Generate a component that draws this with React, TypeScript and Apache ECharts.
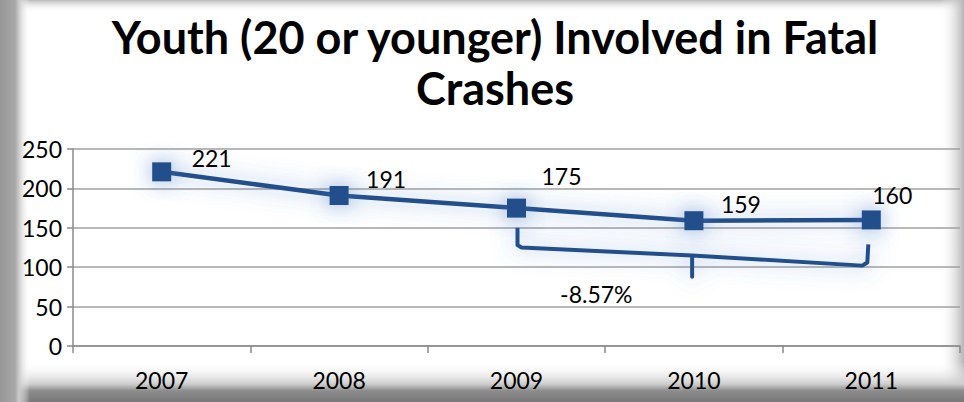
import React, { useEffect, useRef } from "react";
import * as echarts from "echarts";

const TITLE = "Youth (20 or younger) Involved in Fatal\nCrashes";
const YEARS = ["2007", "2008", "2009", "2010", "2011"];
const YOUTH_CRASHES = [221, 191, 175, 159, 160];
const Y_TICKS = [0, 50, 100, 150, 200, 250];
const COMPARE_FROM = 2; // 2009
const COMPARE_TO = 4; // 2011

const LINE_COLOR = "#21508C";
const GLOW = "rgba(70,120,200,0.65)";
const FONT = "Lato, 'Noto Sans', sans-serif";

// label offsets (layout only)
const LABEL_OFFSETS: [number, number][] = [
  [50, -14],
  [47, -16],
  [45, -32],
  [47, -17],
  [21, -25],
];

export default function App() {
  const ref = useRef<HTMLDivElement>(null);
  useEffect(() => {
    if (!ref.current) return;
    const chart = echarts.init(ref.current, undefined, { renderer: "svg" });
    const pct =
      ((YOUTH_CRASHES[COMPARE_TO] - YOUTH_CRASHES[COMPARE_FROM]) /
        YOUTH_CRASHES[COMPARE_FROM]) *
      100;
    const pctText = pct.toFixed(2) + "%";

    chart.setOption({
      animation: false,
      backgroundColor: "#ffffff",
      title: {
        text: TITLE,
        left: 490,
        textAlign: "center",
        top: 6,
        textStyle: {
          fontFamily: FONT,
          fontWeight: "bold",
          fontSize: 45,
          lineHeight: 51,
          color: "#000",
        },
      },
      graphic: [
        {
          type: "rect",
          z: -10,
          shape: { x: 0, y: 0, width: 964, height: 12 },
          style: {
            fill: new echarts.graphic.LinearGradient(0, 0, 0, 1, [
              { offset: 0, color: "rgba(170,170,170,0.8)" },
              { offset: 1, color: "rgba(255,255,255,0)" },
            ]),
          },
        },
        {
          type: "rect",
          z: -10,
          shape: { x: 940, y: 0, width: 24, height: 402 },
          style: {
            fill: new echarts.graphic.LinearGradient(0, 0, 1, 0, [
              { offset: 0, color: "rgba(255,255,255,0)" },
              { offset: 1, color: "rgba(180,180,180,1)" },
            ]),
          },
        },
        {
          type: "rect",
          z: -10,
          shape: { x: 0, y: 362, width: 964, height: 40 },
          style: {
            fill: new echarts.graphic.LinearGradient(0, 0, 0, 1, [
              { offset: 0, color: "rgba(255,255,255,0)" },
              { offset: 0.55, color: "rgba(205,205,205,1)" },
              { offset: 0.72, color: "rgba(140,140,140,1)" },
              { offset: 1, color: "rgba(120,120,120,1)" },
            ]),
          },
        },
        {
          type: "rect",
          z: -9,
          shape: { x: 0, y: 0, width: 30, height: 402 },
          style: {
            fill: new echarts.graphic.LinearGradient(0, 0, 1, 0, [
              { offset: 0, color: "rgba(150,150,150,1)" },
              { offset: 0.5, color: "rgba(168,168,168,1)" },
              { offset: 0.62, color: "rgba(200,200,200,1)" },
              { offset: 1, color: "rgba(255,255,255,0)" },
            ]),
          },
        },
      ],
      grid: { left: 73, right: 4, top: 149, bottom: 56, containLabel: false },
      xAxis: {
        type: "category",
        data: YEARS,
        boundaryGap: true,
        axisLine: { show: true, lineStyle: { color: "#8a8a8a", width: 1.5 } },
        axisTick: { show: true, length: 7, lineStyle: { color: "#8a8a8a", width: 1.5 } },
        axisLabel: {
          margin: 22,
          fontFamily: FONT,
          fontSize: 23,
          color: "#000",
        },
        splitLine: { show: false },
      },
      yAxis: {
        type: "value",
        min: Y_TICKS[0],
        max: Y_TICKS[Y_TICKS.length - 1],
        interval: Y_TICKS[1] - Y_TICKS[0],
        axisLine: { show: true, lineStyle: { color: "#8a8a8a", width: 1.5 } },
        axisTick: { show: true, length: 6, lineStyle: { color: "#8a8a8a", width: 1.5 } },
        axisLabel: {
          margin: 11,
          fontFamily: FONT,
          fontSize: 23,
          color: "#000",
        },
        splitLine: { show: true, lineStyle: { color: "#a0a0a0", width: 1.5 } },
      },
      series: [
        {
          type: "line",
          data: YOUTH_CRASHES.map((v, i) => ({
            value: v,
            label: { offset: LABEL_OFFSETS[i] },
          })),
          symbol: "rect",
          symbolSize: 19,
          lineStyle: {
            color: LINE_COLOR,
            width: 4.5,
            shadowBlur: 22,
            shadowColor: GLOW,
          },
          itemStyle: {
            color: LINE_COLOR,
            shadowBlur: 22,
            shadowColor: GLOW,
          },
          label: {
            show: true,
            position: "inside",
            fontFamily: FONT,
            fontSize: 23,
            color: "#000",
            textShadowBlur: 0,
          },
          z: 5,
        },
        {
          type: "custom",
          data: [[COMPARE_FROM, COMPARE_TO]],
          z: 4,
          silent: true,
          renderItem: (params: any, api: any) => {
            const from = api.value(0);
            const to = api.value(1);
            const xL = api.coord([from, 0])[0];
            const xR = api.coord([to, 0])[0];
            const y = (v: number) => api.coord([from, v])[1];
            const xM = xL + (xR - xL) * 0.495;
            const pts = [
              [xL + 1, y(150)],
              [xL + 1, y(128)],
              [xL + 5, y(125)],
              [xM, y(115)],
              [xM, y(88)],
              [xM, y(115)],
              [xR - 9, y(102)],
              [xR - 4, y(106)],
              [xR - 3, y(129)],
            ];
            return {
              type: "group",
              children: [
                {
                  type: "polyline",
                  shape: { points: pts },
                  style: {
                    stroke: LINE_COLOR,
                    lineWidth: 4,
                    fill: null,
                    lineJoin: "round",
                    shadowBlur: 22,
                    shadowColor: GLOW,
                  },
                },
                {
                  type: "text",
                  x: xL + (xR - xL) * 0.225,
                  y: y(66),
                  style: {
                    text: pctText,
                    fontFamily: FONT,
                    fontSize: 23,
                    fill: "#000",
                    align: "center",
                    verticalAlign: "middle",
                  },
                },
              ],
            };
          },
        },
      ],
    });
    return () => chart.dispose();
  }, []);
  return <div ref={ref} style={{ width: 964, height: 402, position: "absolute", left: 0, top: 0 }} />;
}
